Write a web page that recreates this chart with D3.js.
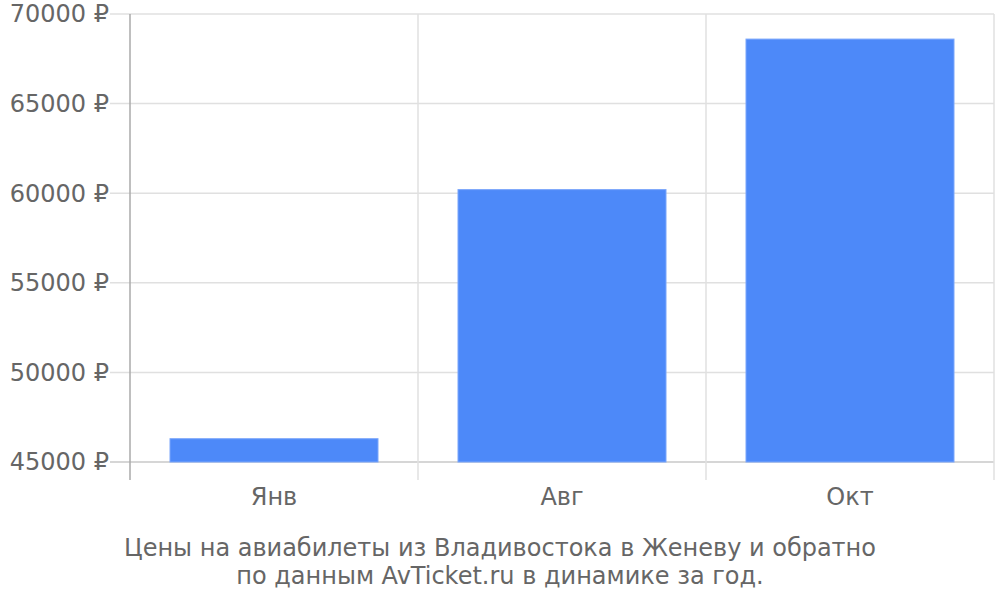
<!DOCTYPE html>
<html><head><meta charset="utf-8">
<script src="https://cdn.jsdelivr.net/npm/d3@7"></script>
<style>body{margin:0;background:#fff}</style>
</head><body>
<svg id="c" width="1000" height="600"></svg>
<script>
const categories = ["Янв", "Авг", "Окт"];
const values = [46300, 60200, 68600];
const yTicks = [45000, 50000, 55000, 60000, 65000, 70000];
const titleLines = ["Цены на авиабилеты из Владивостока в Женеву и обратно", "по данным AvTicket.ru в динамике за год."];

const svg = d3.select("#c");
const L = 130, R = 994, T = 14, B = 462;
const font = "DejaVu Sans, sans-serif";
const x = d3.scaleBand().domain(categories).range([L, R]).paddingInner(0).paddingOuter(0);
const y = d3.scaleLinear().domain([45000, 70000]).range([B, T]);

// horizontal grid
svg.append("g").selectAll("line").data(yTicks).join("line")
  .attr("x1", 110).attr("x2", R).attr("y1", d => y(d)).attr("y2", d => y(d))
  .attr("stroke", d => d === 45000 ? "#c8c8c8" : "#e0e0e0").attr("stroke-width", 1.5);

// vertical grid
const vx = categories.map(c => x(c)).concat([R]);
svg.append("g").selectAll("line").data(vx.slice(1)).join("line")
  .attr("x1", d => d).attr("x2", d => d).attr("y1", T).attr("y2", 480)
  .attr("stroke", "#e0e0e0").attr("stroke-width", 1.5);

// bars
const pad = 40;
svg.append("g").selectAll("rect").data(values).join("rect")
  .attr("x", (d, i) => x(categories[i]) + pad)
  .attr("width", x.bandwidth() - 2 * pad)
  .attr("y", d => y(d))
  .attr("height", d => B - y(d))
  .attr("fill", "#4d89f9").attr("stroke", "#7aa6fb").attr("stroke-width", 1);

// left axis line
svg.append("line").attr("x1", L).attr("x2", L).attr("y1", T).attr("y2", 480)
  .attr("stroke", "#aaaaaa").attr("stroke-width", 1.5);

// y labels
svg.append("g").selectAll("text").data(yTicks).join("text")
  .attr("x", 109).attr("y", d => y(d)).attr("dy", "0.35em")
  .attr("text-anchor", "end").attr("font-family", font).attr("font-size", 24)
  .attr("fill", "#666").text(d => d + " ₽");

// x labels
svg.append("g").selectAll("text").data(categories).join("text")
  .attr("x", d => x(d) + x.bandwidth() / 2).attr("y", 505)
  .attr("text-anchor", "middle").attr("font-family", font).attr("font-size", 24)
  .attr("fill", "#666").text(d => d);

// title
svg.append("g").selectAll("text").data(titleLines).join("text")
  .attr("x", 500).attr("y", (d, i) => 556 + i * 28)
  .attr("text-anchor", "middle").attr("font-family", font).attr("font-size", 24)
  .attr("fill", "#666").text(d => d);
</script>
</body></html>
